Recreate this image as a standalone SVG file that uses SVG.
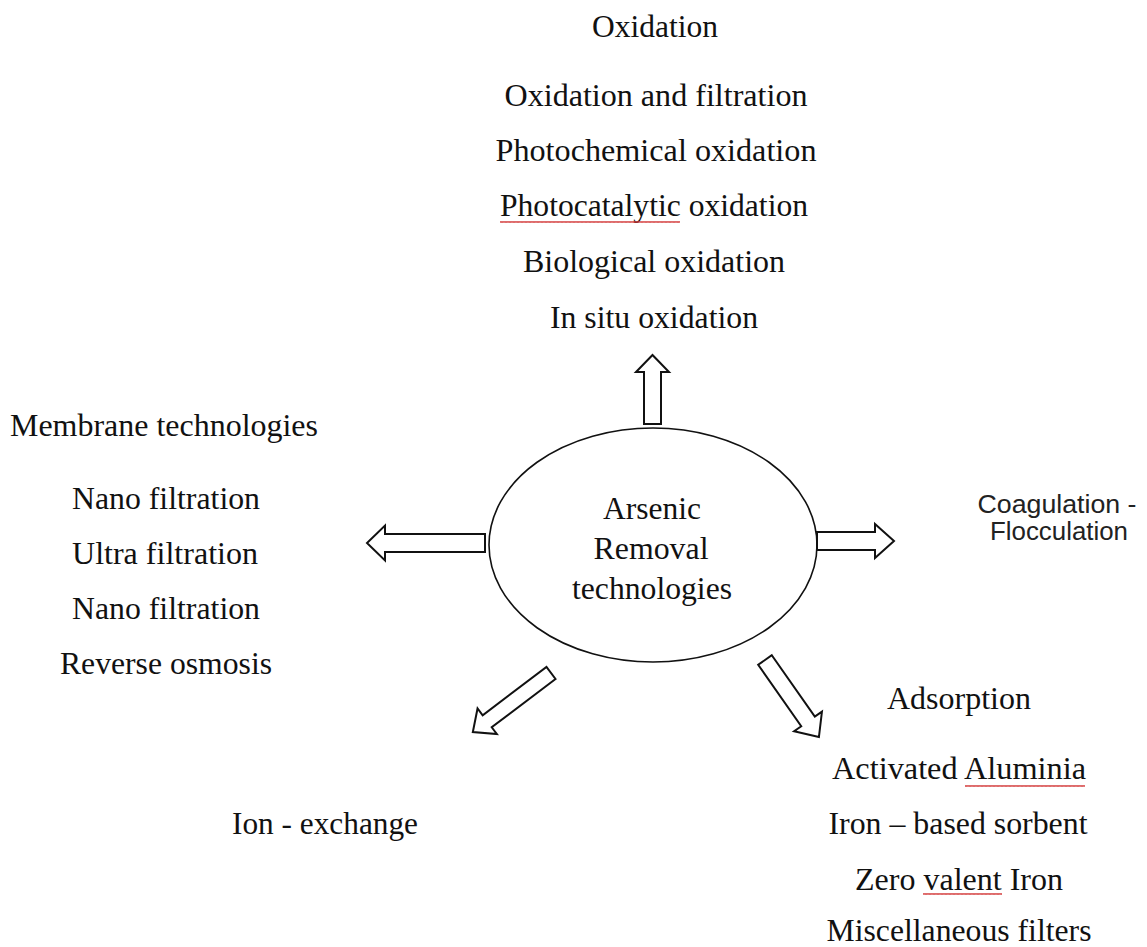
<svg xmlns="http://www.w3.org/2000/svg" width="1147" height="947" viewBox="0 0 1147 947">
  <style>
    .t { font-family: "Liberation Serif", "Times New Roman", serif; font-size: 32px; fill: #111; text-anchor: middle; }
    .s { font-family: "Liberation Sans", Arial, sans-serif; font-size: 25px; fill: #222; text-anchor: middle; }
    .hub { fill: #fff; stroke: #111; stroke-width: 1.6; }
    .arrow { fill: #fff; stroke: #111; stroke-width: 2; stroke-linejoin: miter; }
    .spell { fill: url(#wavy); }
  </style>
  <defs>
    <!-- red squiggle used under flagged words (tile rows start on multiples of 4) -->
    <pattern id="wavy" x="0" y="0" width="4" height="4" patternUnits="userSpaceOnUse">
      <polyline points="0,3 1,1 2,3 3,1 4,3" fill="none" stroke="#d23a3a" stroke-width="0.9"/>
    </pattern>
  </defs>
  <rect width="1147" height="947" fill="#fff"/>

  <!-- central hub -->
  <g id="hub">
    <ellipse class="hub" cx="653" cy="545" rx="164" ry="117"/>
    <text class="t" x="652" y="519" textLength="98" lengthAdjust="spacingAndGlyphs">Arsenic</text>
    <text class="t" x="651" y="559" textLength="115" lengthAdjust="spacingAndGlyphs">Removal</text>
    <text class="t" x="652" y="599" textLength="160" lengthAdjust="spacingAndGlyphs">technologies</text>
  </g>

  <!-- block arrows radiating from the hub -->
  <g id="connectors">
    <polygon class="arrow" transform="translate(652.5,424) rotate(-90)" points="0,-8.5 52,-8.5 52,-16.5 69,0 52,16.5 52,8.5 0,8.5"/>
    <polygon class="arrow" transform="translate(817,541)" points="0,-9 58,-9 58,-17 77,0 58,17 58,9 0,9"/>
    <polygon class="arrow" transform="translate(485,543) rotate(180)" points="0,-9 100,-9 100,-17.5 118,0 100,17.5 100,9 0,9"/>
    <polygon class="arrow" transform="translate(551,673) rotate(142.9)" points="0,-7.5 80,-7.5 80,-16 98,0 80,16 80,7.5 0,7.5"/>
    <polygon class="arrow" transform="translate(765,660) rotate(55)" points="0,-8.3 75,-8.3 75,-17 94,0 75,17 75,8.3 0,8.3"/>
  </g>

  <!-- oxidation branch -->
  <g id="oxidation">
    <text class="t" x="655" y="37" textLength="126" lengthAdjust="spacingAndGlyphs">Oxidation</text>
    <text class="t" x="656" y="106" textLength="303" lengthAdjust="spacingAndGlyphs">Oxidation and filtration</text>
    <text class="t" x="656" y="161" textLength="321" lengthAdjust="spacingAndGlyphs">Photochemical oxidation</text>
    <text class="t" x="654" y="216" textLength="308" lengthAdjust="spacingAndGlyphs">Photocatalytic oxidation</text>
    <rect class="spell" x="500" y="220" width="180" height="4"/>
    <text class="t" x="654" y="272" textLength="262" lengthAdjust="spacingAndGlyphs">Biological oxidation</text>
    <text class="t" x="654" y="328" textLength="208" lengthAdjust="spacingAndGlyphs">In situ oxidation</text>
  </g>

  <!-- membrane branch -->
  <g id="membrane">
    <text class="t" x="164" y="436" textLength="308" lengthAdjust="spacingAndGlyphs">Membrane technologies</text>
    <text class="t" x="166" y="509" textLength="188" lengthAdjust="spacingAndGlyphs">Nano filtration</text>
    <text class="t" x="165" y="564" textLength="186" lengthAdjust="spacingAndGlyphs">Ultra filtration</text>
    <text class="t" x="166" y="619" textLength="188" lengthAdjust="spacingAndGlyphs">Nano filtration</text>
    <text class="t" x="166" y="674" textLength="212" lengthAdjust="spacingAndGlyphs">Reverse osmosis</text>
  </g>

  <!-- coagulation branch -->
  <g id="coagulation">
    <text class="s" x="1057" y="513" textLength="159" lengthAdjust="spacingAndGlyphs">Coagulation -</text>
    <text class="s" x="1059" y="540" textLength="138" lengthAdjust="spacingAndGlyphs">Flocculation</text>
  </g>

  <!-- adsorption branch -->
  <g id="adsorption">
    <text class="t" x="959" y="709" textLength="144" lengthAdjust="spacingAndGlyphs">Adsorption</text>
    <text class="t" x="959" y="779" textLength="254" lengthAdjust="spacingAndGlyphs">Activated Aluminia</text>
    <rect class="spell" x="965" y="784" width="120" height="4"/>
    <text class="t" x="958" y="834" textLength="259" lengthAdjust="spacingAndGlyphs">Iron – based sorbent</text>
    <text class="t" x="959" y="890" textLength="208" lengthAdjust="spacingAndGlyphs">Zero valent Iron</text>
    <rect class="spell" x="923" y="892" width="79" height="4"/>
    <text class="t" x="959" y="941" textLength="265" lengthAdjust="spacingAndGlyphs">Miscellaneous filters</text>
  </g>

  <!-- ion exchange branch -->
  <g id="ion-exchange">
    <text class="t" x="325" y="834" textLength="186" lengthAdjust="spacingAndGlyphs">Ion - exchange</text>
  </g>
</svg>
